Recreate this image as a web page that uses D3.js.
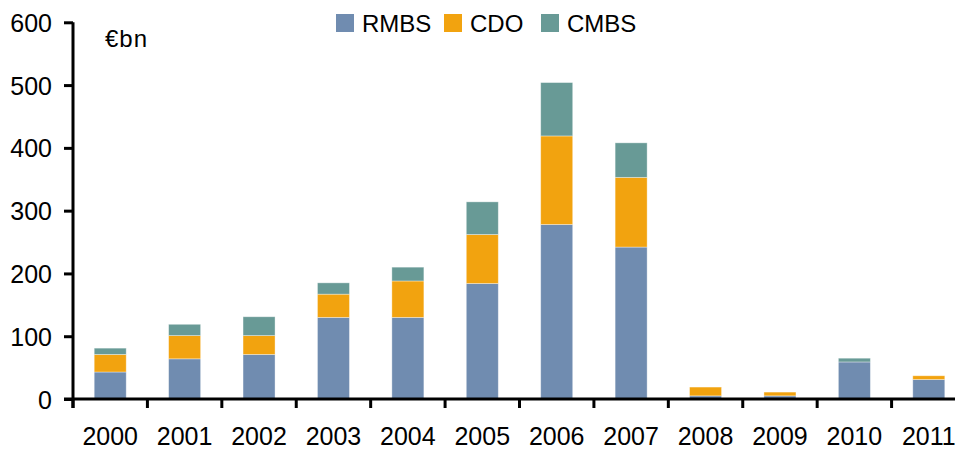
<!DOCTYPE html>
<html><head><meta charset="utf-8">
<script src="https://cdn.jsdelivr.net/npm/d3@7"></script>
<style>body{margin:0;background:#fff;} svg{display:block;font-family:"Liberation Sans",Arial,sans-serif;}</style>
</head><body>
<svg id="c" width="955" height="450"></svg>
<script>
const years = ["2000","2001","2002","2003","2004","2005","2006","2007","2008","2009","2010","2011"];
const rmbs = [43, 64, 71, 130, 130, 184, 278, 242, 5, 5, 59, 31];
const cdo  = [28, 37, 30, 37, 58, 78, 141, 111, 14, 6, 0, 6];
const cmbs = [10, 18, 30, 18, 22, 52, 85, 55, 0, 0, 6, 0];
const seriesNames = ["RMBS", "CDO", "CMBS"];
const seriesColors = ["#708cb0", "#f2a30f", "#689a96"];
const yTicks = [0, 100, 200, 300, 400, 500, 600];

const svg = d3.select("#c");
const x = d3.scaleBand().domain(years).range([73, 966]).paddingInner(0.57).paddingOuter(0.285);
const y = d3.scaleLinear().domain([0, 600]).range([399, 22.3]);

const rows = years.map((yr, i) => ({year: yr, RMBS: rmbs[i], CDO: cdo[i], CMBS: cmbs[i]}));
const stacked = d3.stack().keys(seriesNames)(rows);

svg.append("g").selectAll("g").data(stacked).join("g")
  .attr("fill", (d, i) => seriesColors[i])
  .selectAll("rect").data(d => d.filter(p => p[1] - p[0] > 0)).join("rect")
  .attr("x", d => x(d.data.year))
  .attr("width", x.bandwidth())
  .attr("y", d => y(d[1]))
  .attr("height", d => y(d[0]) - y(d[1]))
  .attr("stroke", "#ffffff").attr("stroke-opacity", 0.45).attr("stroke-width", 0.8);

// y axis
const yAxis = svg.append("g").attr("transform", "translate(73,0)")
  .call(d3.axisLeft(y).tickValues(yTicks).tickSize(9).tickPadding(12).tickSizeOuter(0));
yAxis.select(".domain").attr("stroke", "#000").attr("stroke-width", 3)
  .attr("d", `M0,${y(600)}V${y(0) + 9}`);
yAxis.selectAll(".tick line").attr("stroke", "#000").attr("stroke-width", 3);
yAxis.selectAll(".tick text").attr("font-size", 25).attr("fill", "#000")
  .attr("font-family", "Liberation Sans, Arial, sans-serif").attr("dy", "0.36em");

// x axis: ticks at band boundaries
const xAxisG = svg.append("g").attr("transform", `translate(0,${y(0)})`);
xAxisG.append("line").attr("x1", 64).attr("x2", 955).attr("y1", 0).attr("y2", 0)
  .attr("stroke", "#000").attr("stroke-width", 3);
const step = x.step();
const boundaries = years.map(yr => x(yr) - (step - x.bandwidth()) / 2);
xAxisG.selectAll("line.tk").data(boundaries).join("line").attr("class", "tk")
  .attr("x1", d => d).attr("x2", d => d).attr("y1", 0).attr("y2", 9)
  .attr("stroke", "#000").attr("stroke-width", 3);
xAxisG.selectAll("text").data(years).join("text")
  .attr("x", d => x(d) + x.bandwidth() / 2)
  .attr("y", 46)
  .attr("text-anchor", "middle")
  .attr("font-size", 25).attr("fill", "#000")
  .text(d => d);

// unit label
svg.append("text").attr("x", 105).attr("y", 47).attr("font-size", 24).attr("fill", "#000")
  .attr("letter-spacing", 1).text("€bn");

// legend
const legendX = [336, 444, 541];
const lg = svg.append("g").selectAll("g").data(seriesNames).join("g")
  .attr("transform", (d, i) => `translate(${legendX[i]},14)`);
lg.append("rect").attr("width", 18).attr("height", 18).attr("fill", (d, i) => seriesColors[i]);
lg.append("text").attr("x", 26).attr("y", 9).attr("dy", "0.36em")
  .attr("font-size", 24).attr("fill", "#000").text(d => d);
</script>
</body></html>
